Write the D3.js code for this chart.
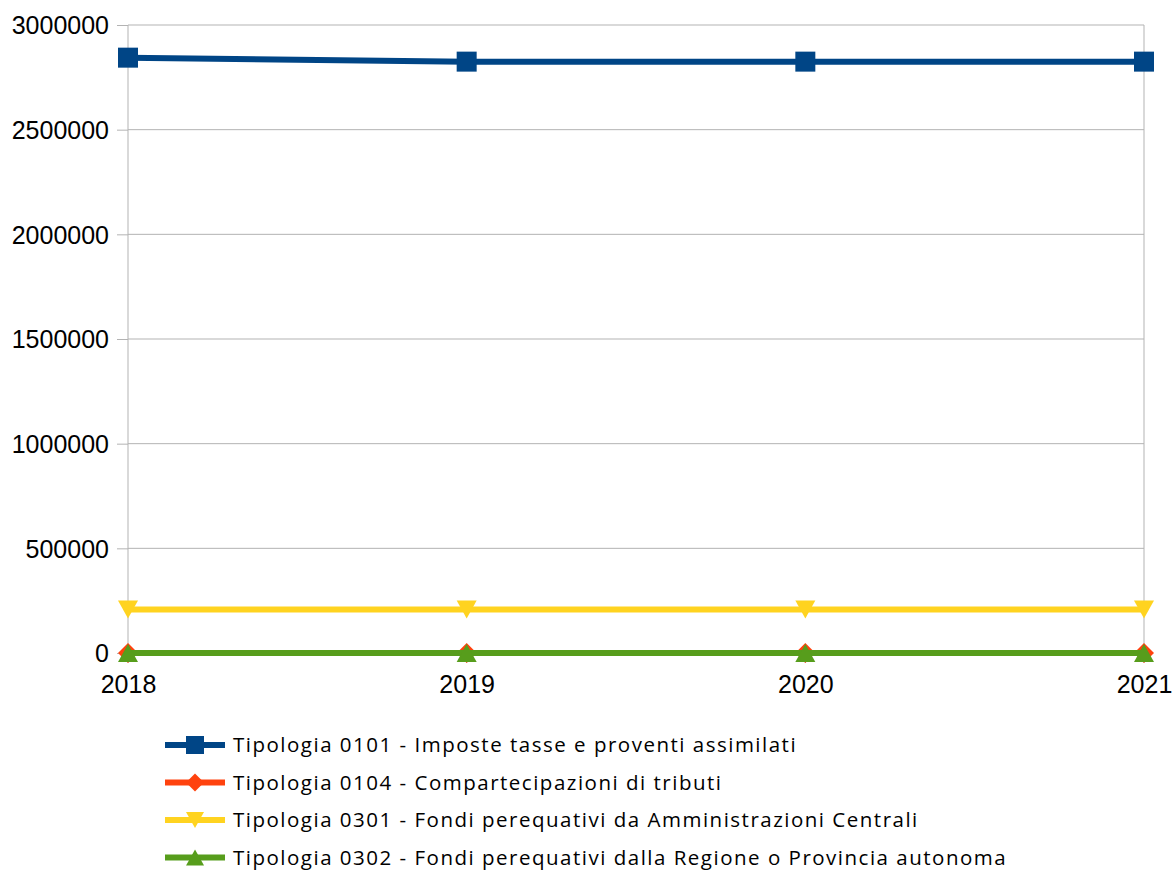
<!DOCTYPE html>
<html>
<head>
<meta charset="utf-8">
<script src="https://cdn.jsdelivr.net/npm/d3@7"></script>
<style>
  body { margin: 0; background: #fff; }
  .axis text { font-family: "Liberation Sans", Arial, sans-serif; font-size: 25px; fill: #000; }
  .legend text { font-family: "Open Sans", sans-serif; font-size: 20.5px; letter-spacing: 1.5px; fill: #000; }
</style>
</head>
<body>
<div id="chart"></div>
<script>
  const years = ["2018", "2019", "2020", "2021"];
  const seriesNames = [
    "Tipologia 0101 - Imposte tasse e proventi assimilati",
    "Tipologia 0104 - Compartecipazioni di tributi",
    "Tipologia 0301 - Fondi perequativi da Amministrazioni Centrali",
    "Tipologia 0302 - Fondi perequativi dalla Regione o Provincia autonoma",
  ];
  const imposte = [2844000, 2825000, 2825000, 2825000];
  const compartecipazioni = [0, 0, 0, 0];
  const fondiCentrali = [208000, 208000, 208000, 208000];
  const fondiRegione = [0, 0, 0, 0];
  const yTicks = [0, 500000, 1000000, 1500000, 2000000, 2500000, 3000000];

  const colors = ["#004586", "#ff420e", "#ffd320", "#579d1c"];
  const symbols = ["square", "diamond", "down", "up"];
  const allValues = [imposte, compartecipazioni, fondiCentrali, fondiRegione];

  const W = 1176, H = 871;
  const margin = { top: 25, right: 32, bottom: 218, left: 128 };
  const width = W - margin.left - margin.right;
  const height = H - margin.top - margin.bottom;

  const svg = d3.select("#chart").append("svg")
    .attr("width", W).attr("height", H);
  const g = svg.append("g")
    .attr("transform", `translate(${margin.left},${margin.top})`);

  const x = d3.scalePoint().domain(years).range([0, width]);
  const y = d3.scaleLinear().domain([0, 3000000]).range([height, 0]);

  // horizontal grid
  g.selectAll("line.grid-y").data(yTicks).join("line")
    .attr("x1", 0).attr("x2", width)
    .attr("y1", d => y(d)).attr("y2", d => y(d))
    .attr("stroke", "#b3b3b3").attr("stroke-width", 1);
  // left axis line and right border
  g.selectAll("line.side").data([0, width]).join("line")
    .attr("x1", d => d).attr("x2", d => d)
    .attr("y1", 0).attr("y2", height)
    .attr("stroke", "#b3b3b3").attr("stroke-width", 1);
  // small ticks under each year
  g.selectAll("line.xtick").data(years).join("line")
    .attr("x1", d => x(d)).attr("x2", d => x(d))
    .attr("y1", height).attr("y2", height + 10)
    .attr("stroke", "#b3b3b3").attr("stroke-width", 1);

  // y axis
  const yAxis = g.append("g").attr("class", "axis")
    .call(d3.axisLeft(y).tickValues(yTicks).tickFormat(d3.format("d")).tickSize(11).tickPadding(8));
  yAxis.select(".domain").remove();
  yAxis.selectAll(".tick line").attr("stroke", "#b3b3b3");
  yAxis.selectAll("text").attr("dy", "0.35em");

  // x axis
  const xAxis = g.append("g").attr("class", "axis")
    .attr("transform", `translate(0,${height})`)
    .call(d3.axisBottom(x).tickSize(0).tickPadding(22));
  xAxis.select(".domain").remove();

  function markerPath(sym, size) {
    const h = size / 2;
    if (sym === "down") return `M${-h},${-size * 0.45}L${h},${-size * 0.45}L0,${size * 0.45}Z`;
    if (sym === "up") return `M${-h},${size * 0.45}L${h},${size * 0.45}L0,${-size * 0.45}Z`;
    if (sym === "square") return `M${-h},${-h}H${h}V${h}H${-h}Z`;
    return `M0,${-h}L${h},0L0,${h}L${-h},0Z`;
  }

  const line = d3.line().x((d, i) => x(years[i])).y(d => y(d));

  allValues.forEach((vals, si) => {
    g.append("path").datum(vals)
      .attr("d", line)
      .attr("fill", "none")
      .attr("stroke", colors[si])
      .attr("stroke-width", 6);
    g.selectAll(null).data(vals).join("path")
      .attr("transform", (d, i) => `translate(${x(years[i])},${y(d)})`)
      .attr("d", markerPath(symbols[si], 20))
      .attr("fill", colors[si]);
  });

  // legend
  const legend = svg.append("g").attr("class", "legend")
    .attr("transform", "translate(165,745)");
  seriesNames.forEach((name, i) => {
    const row = legend.append("g").attr("transform", `translate(0,${i * 37.5})`);
    row.append("line").attr("x1", 0).attr("x2", 60).attr("y1", 0).attr("y2", 0)
      .attr("stroke", colors[i]).attr("stroke-width", 6);
    row.append("path").attr("transform", "translate(30,0)")
      .attr("d", markerPath(symbols[i], 18)).attr("fill", colors[i]);
    row.append("text").attr("x", 68).attr("y", 0).attr("dy", "0.35em").text(name);
  });
</script>
</body>
</html>
